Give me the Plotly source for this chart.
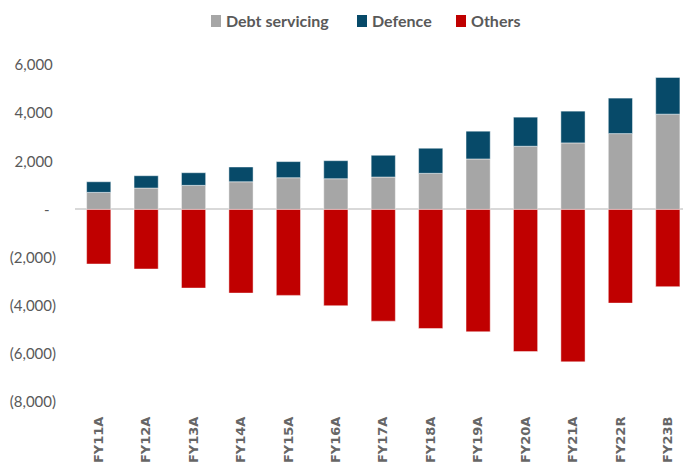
import plotly.graph_objects as go

categories = ["FY11A", "FY12A", "FY13A", "FY14A", "FY15A", "FY16A", "FY17A",
              "FY18A", "FY19A", "FY20A", "FY21A", "FY22R", "FY23B"]
debt_servicing = [708, 888, 1000, 1150, 1317, 1275, 1346, 1500, 2096, 2625, 2763, 3150, 3958]
defence = [442, 512, 525, 613, 670, 750, 904, 1042, 1154, 1208, 1320, 1475, 1525]
others = [-2267, -2475, -3267, -3475, -3571, -4000, -4642, -4946, -5083, -5904, -6333, -3892, -3208]

series_names = ["Debt servicing", "Defence", "Others"]
series_colors = ["#A6A6A6", "#074A69", "#C00000"]

tick_vals = [6000, 4000, 2000, 0, -2000, -4000, -6000, -8000]
tick_text = ["6,000\u2008", "4,000\u2008", "2,000\u2008", "-\u2008\u2008", "(2,000)", "(4,000)", "(6,000)", "(8,000)"]

W, H = 683, 468
ML, MR, MT, MB = 75, 0, 65, 66
PW, PH = W - ML - MR, H - MT - MB

def px_x(px):
    return (px - ML) / PW

def px_y(py):
    return (H - MB - py) / PH

edge = "rgba(255,255,255,0.45)"
fig = go.Figure()
for name, vals, col in zip(series_names, [debt_servicing, defence, others], series_colors):
    fig.add_trace(go.Bar(name=name, x=categories, y=vals, showlegend=False,
                         marker=dict(color=col, line=dict(color=edge, width=1))))

# custom compact legend
legend_left = [211, 357, 456]
for name, col, lx in zip(series_names, series_colors, legend_left):
    fig.add_shape(type="rect", xref="paper", yref="paper",
                  x0=px_x(lx), x1=px_x(lx + 10), y0=px_y(27), y1=px_y(15),
                  fillcolor=col, line=dict(width=0), layer="above")
    fig.add_annotation(xref="paper", yref="paper", x=px_x(lx + 13), y=px_y(20.5),
                       xanchor="left", yanchor="middle", showarrow=False, text=name,
                       font=dict(size=16, family="Lato", color="#595959", weight="bold"))

fig.update_layout(
    width=W, height=H,
    barmode="relative",
    bargap=0.49,
    plot_bgcolor="white", paper_bgcolor="white",
    margin=dict(l=ML, r=MR, t=MT, b=MB),
    font=dict(family="Lato, Liberation Sans", color="#595959"),
    showlegend=False,
    xaxis=dict(range=[-0.5, 12.32], tickangle=-90, showgrid=False, showline=False,
               ticks="", ticklabelstandoff=11, automargin=False,
               tickfont=dict(size=13, family="DejaVu Sans", color="#666666", weight="bold")),
    yaxis=dict(range=[-8000, 6000], tickvals=tick_vals, ticktext=tick_text,
               showgrid=False, zeroline=True, zerolinecolor="#D9D9D9", zerolinewidth=2,
               ticks="", ticklabelstandoff=18, automargin=False,
               tickfont=dict(size=15, family="Lato", color="#595959")),
)

fig.write_html("out.html")
